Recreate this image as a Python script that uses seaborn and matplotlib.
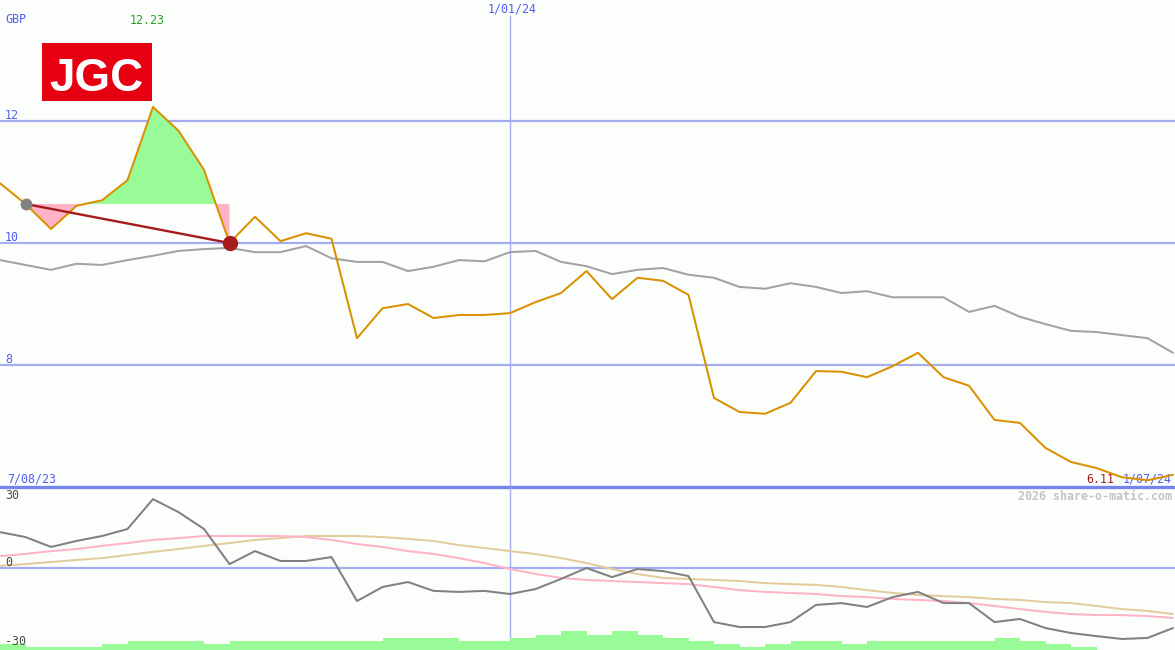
import numpy as np
import pandas as pd
import matplotlib
matplotlib.use("Agg")
import matplotlib.pyplot as plt
from matplotlib.patches import Rectangle
import seaborn as sns

# ---------------- data ----------------
week_index = list(range(47))
start_label = "7/08/23"
mid_label = "1/01/24"
end_label = "1/07/24"
mid_index = 20
currency = "GBP"
ticker = "JGC"
credit = "2026 share-o-matic.com"

price = [10.98, 10.64, 10.23, 10.61, 10.70, 11.03, 12.23, 11.84, 11.20, 10.00,
         10.43, 10.03, 10.16, 10.07, 8.44, 8.93, 9.00, 8.77, 8.82, 8.82,
         8.85, 9.03, 9.18, 9.54, 9.08, 9.43, 9.38, 9.15, 7.46, 7.23,
         7.20, 7.38, 7.90, 7.89, 7.80, 7.98, 8.20, 7.80, 7.66, 7.10,
         7.05, 6.64, 6.41, 6.31, 6.16, 6.11, 6.20]

price_avg = [9.72, 9.64, 9.56, 9.66, 9.64, 9.72, 9.79, 9.87, 9.90, 9.92,
             9.85, 9.85, 9.95, 9.75, 9.69, 9.69, 9.54, 9.61, 9.72, 9.70,
             9.85, 9.87, 9.69, 9.62, 9.49, 9.56, 9.59, 9.48, 9.43, 9.28,
             9.25, 9.34, 9.28, 9.18, 9.21, 9.11, 9.11, 9.11, 8.87, 8.97,
             8.79, 8.67, 8.56, 8.54, 8.49, 8.44, 8.20]

momentum = [13.8, 11.9, 8.1, 10.4, 12.3, 15.0, 26.5, 21.5, 15.0, 1.5,
            6.5, 2.7, 2.7, 4.2, -12.7, -7.3, -5.4, -8.8, -9.2, -8.8,
            -10.0, -8.1, -4.2, 0.0, -3.5, -0.4, -1.2, -3.1, -20.8, -22.7,
            -22.7, -20.8, -14.2, -13.5, -15.0, -11.2, -9.2, -13.5, -13.5, -20.8,
            -19.6, -23.1, -25.0, -26.2, -27.3, -26.9, -23.1]

momentum_fast = [4.6, 5.4, 6.5, 7.3, 8.5, 9.6, 10.8, 11.5, 12.3, 12.3,
                 12.3, 12.3, 11.9, 10.8, 9.2, 8.1, 6.5, 5.4, 3.8, 1.9,
                 -0.4, -2.3, -3.8, -4.6, -5.0, -5.4, -5.8, -6.2, -7.3, -8.5,
                 -9.2, -9.6, -10.0, -10.8, -11.2, -11.9, -12.3, -12.7, -13.5, -14.6,
                 -15.8, -16.9, -17.7, -18.1, -18.1, -18.5, -19.2]

momentum_slow = [0.8, 1.5, 2.3, 3.1, 3.8, 5.0, 6.2, 7.3, 8.5, 9.6,
                 10.8, 11.5, 12.3, 12.3, 12.3, 11.9, 11.2, 10.4, 8.8, 7.7,
                 6.5, 5.4, 3.8, 1.9, -0.4, -2.3, -3.8, -4.2, -4.6, -5.0,
                 -5.8, -6.2, -6.5, -7.3, -8.5, -9.6, -10.4, -10.8, -11.2, -11.9,
                 -12.3, -13.1, -13.5, -14.6, -15.8, -16.5, -17.7]

volume = [2, 1, 1, 1, 2, 3, 3, 3, 2, 3,
          3, 3, 3, 3, 3, 4, 4, 4, 3, 3,
          4, 5, 6.3, 5, 6.3, 5, 4, 3, 2, 1,
          2, 3, 3, 2, 3, 3, 3, 3, 3, 4,
          3, 2, 1, 0, 0, 0]

price_ticks = [12, 10, 8]
mom_ticks = [30, 0, -30]
trend_start = 1
trend_end = 9

# ---------------- styling ----------------
sns.set_theme(style="white")
plt.rcParams["font.family"] = ["DejaVu Sans Mono", "DejaVu Sans"]

W, H = 1175, 650
fig = plt.figure(figsize=(W / 100, H / 100), dpi=100)
BG = "#fcfefc"
fig.patch.set_facecolor(BG)

top_px = 487
ax1 = fig.add_axes([0, (H - top_px) / H, 1, top_px / H])
ax2 = fig.add_axes([0, 0, 1, (H - top_px) / H])
for ax in (ax1, ax2):
    ax.set_axis_off()

x_max = W / 25.5
ax1.set_xlim(0, x_max)
ax2.set_xlim(0, x_max)
ax1.set_ylim(6, 6 + top_px / 61)
ax2.set_ylim(-(H - 568) / 2.6, (568 - top_px) / 2.6)

LIGHT_BLUE = "#a3adf0"
DARK_BLUE = "#7585ee"
ORANGE = "#d99100"
GREY = "#a2a2a2"
MGREY = "#808080"
PINK = "#ffb3c6"
TAN = "#e3cc9c"
GREEN = "#98fb98"
DARKRED = "#a51c1c"
LW = 1.45

df = pd.DataFrame({"idx": week_index, "price": price, "avg": price_avg,
                   "mom": momentum, "fast": momentum_fast, "slow": momentum_slow})

# grid lines
for t in price_ticks:
    ax1.axhline(t, color=LIGHT_BLUE, lw=1.6, zorder=1)
ax1.axhline(6, color=DARK_BLUE, lw=2.4, zorder=5, clip_on=False)
ax1.axvline(mid_index, ymin=0, ymax=(top_px - 16) / top_px, color=LIGHT_BLUE, lw=1, zorder=1)
ax2.axhline(0, color=LIGHT_BLUE, lw=1.6, zorder=1)
ax2.axvline(mid_index, color=LIGHT_BLUE, lw=1, zorder=1)

# fills relative to the trend start level
level = price[trend_start]
xs = np.array(week_index[trend_start:trend_end + 1], dtype=float)
ys = np.array(price[trend_start:trend_end + 1])
ax1.fill_between(xs, ys, level, where=ys >= level, interpolate=True, color=GREEN, lw=0, zorder=2)
ax1.fill_between(xs, ys, level, where=ys <= level, interpolate=True, color=PINK, lw=0, zorder=2)

# price lines
sns.lineplot(data=df, x="idx", y="avg", ax=ax1, color=GREY, lw=LW, zorder=3)
sns.lineplot(data=df, x="idx", y="price", ax=ax1, color=ORANGE, lw=LW, zorder=4)

# trend line and markers
ax1.plot([week_index[trend_start], week_index[trend_end]],
         [price[trend_start], price[trend_end]], color=DARKRED, lw=1.7, zorder=6)
ax1.plot(week_index[trend_start], price[trend_start], "o", color=MGREY, ms=7.5, zorder=7)
ax1.plot(week_index[trend_end], price[trend_end], "o", color=DARKRED, ms=10, zorder=7)

# lower panel
ylo = ax2.get_ylim()[0]
ax2.bar(week_index[:len(volume)], [v * 3 / 2.6 for v in volume], bottom=ylo, width=1.0,
        align="edge", color=GREEN, lw=0, zorder=2)
sns.lineplot(data=df, x="idx", y="slow", ax=ax2, color=TAN, lw=LW, zorder=3)
sns.lineplot(data=df, x="idx", y="fast", ax=ax2, color=PINK, lw=LW, zorder=3)
sns.lineplot(data=df, x="idx", y="mom", ax=ax2, color=MGREY, lw=LW, zorder=4)
for ax in (ax1, ax2):
    if ax.get_legend():
        ax.get_legend().remove()

FS = 8.4
TXT_BLUE = "#4f5ff0"
# price tick labels
for t in price_ticks:
    ax1.annotate(str(t), xy=(0, t), xycoords=("axes fraction", "data"), xytext=(5, 2),
                 textcoords="offset pixels", ha="left", va="baseline", color=TXT_BLUE, fontsize=FS)
for t, dy in zip(mom_ticks, [-9, 2, 1]):
    ax2.annotate(str(t), xy=(0, t), xycoords=("axes fraction", "data"), xytext=(5, dy),
                 textcoords="offset pixels", ha="left", va="baseline", color="#4a4a4a", fontsize=FS)

fig.text(5 / W, 1 - 23 / H, currency, color=TXT_BLUE, fontsize=FS, ha="left", va="baseline")
imax = int(np.argmax(price))
ax1.annotate(f"{max(price):.2f}", xy=(imax, 0), xycoords=("data", "axes fraction"),
             xytext=(-6, 463), textcoords="offset pixels", ha="center", va="baseline",
             color="#22a022", fontsize=FS)
ax1.annotate(mid_label, xy=(mid_index, 1), xycoords=("data", "axes fraction"),
             xytext=(2, -13), textcoords="offset pixels", ha="center", va="baseline",
             color=TXT_BLUE, fontsize=FS)
ax1.annotate(start_label, xy=(0, 6), xycoords=("axes fraction", "data"), xytext=(7, 4),
             textcoords="offset pixels", ha="left", va="baseline", color=TXT_BLUE, fontsize=FS)
ax1.annotate(end_label, xy=(1, 6), xycoords=("axes fraction", "data"), xytext=(-3, 4),
             textcoords="offset pixels", ha="right", va="baseline", color=TXT_BLUE, fontsize=FS)
ax1.annotate(f"{min(price):.2f}", xy=(1, 6), xycoords=("axes fraction", "data"), xytext=(-61, 4),
             textcoords="offset pixels", ha="right", va="baseline", color=DARKRED, fontsize=FS)
fig.text(1 - 3 / W, 1 - 500 / H, credit, color="#c4c4c4", fontsize=FS, fontweight="bold",
         ha="right", va="baseline")

# logo: red box with white bold letters
fig.add_artist(Rectangle((42 / W, 1 - 101 / H), 110 / W, 58 / H, transform=fig.transFigure,
                         facecolor="#e60012", edgecolor="none", zorder=10))
fig.text(96 / W, 1 - 91 / H, ticker, color="white", fontsize=33,
         family="Liberation Sans", fontweight="bold", ha="center", va="baseline", zorder=11)

fig.savefig("out.png", dpi=100, facecolor=BG)
